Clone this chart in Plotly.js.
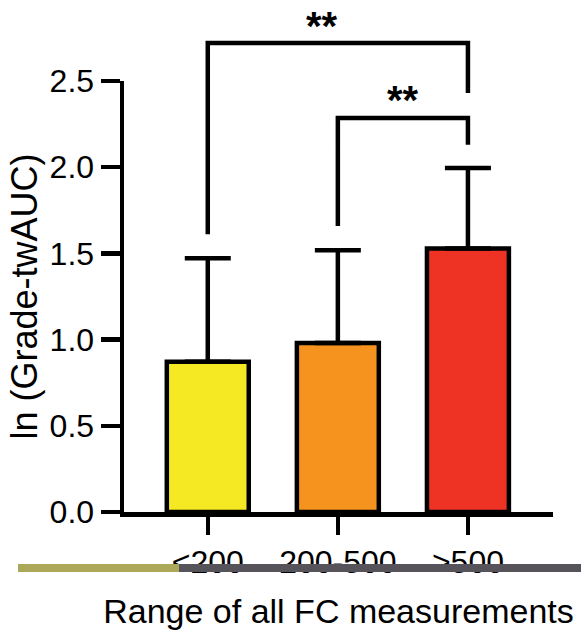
<!DOCTYPE html>
<html>
<head>
<meta charset="utf-8">
<script src="https://cdn.plot.ly/plotly-3.0.1.min.js"></script>
<style>html,body{margin:0;padding:0;background:#fff;}#chart{width:581px;height:630px;}</style>
</head>
<body>
<div id="chart"></div>
<script>
// ---- data ----
var categories = ['<200', '200-500', '>500'];
var means = [0.872, 0.98, 1.528];
var sdUp = [0.60, 0.538, 0.468];
var barColors = ['#F4E922', '#F6931E', '#EE3325'];
var yTicks = [0, 0.5, 1.0, 1.5, 2.0, 2.5];

// significance brackets (leg bottoms and bar heights in y units)
var bracketA = {x: ['<200', '<200', '>500', '>500'], y: [1.611, 2.72, 2.72, 2.43]};
var bracketB = {x: ['200-500', '200-500', '>500', '>500'], y: [1.659, 2.285, 2.285, 2.13]};
var starLabels = ['**', '**'];
var starX = [0.88, 1.5];
var starY = [2.82, 2.39];

var font = 'Liberation Sans, Arial, Helvetica, sans-serif';
var LW = 4.5;
var yMax = 2.5;

// geometry: full plot area for the bracket layer, main axis occupies the lower part
var W = 581, H = 630, mT = 4, mB = 118, mL = 124, mR = 28;
var plotH = H - mT - mB;
var mainTopPx = 81;
var dTop = (H - mB - mainTopPx) / plotH;     // domain top of the main y axis
var y2Max = yMax / dTop;                     // same scale on the overlay axis

var traces = [
  {
    type: 'bar',
    x: categories,
    y: means,
    width: 0.63,
    marker: {color: barColors, line: {color: '#000', width: LW}},
    error_y: {type: 'data', symmetric: false, array: sdUp, arrayminus: [0, 0, 0],
              color: '#000', thickness: LW, width: 23},
    showlegend: false,
    hoverinfo: 'none'
  },
  {
    type: 'scatter', mode: 'lines', x: bracketA.x, y: bracketA.y, yaxis: 'y2',
    line: {color: '#000', width: LW}, showlegend: false, hoverinfo: 'none'
  },
  {
    type: 'scatter', mode: 'lines', x: bracketB.x, y: bracketB.y, yaxis: 'y2',
    line: {color: '#000', width: LW}, showlegend: false, hoverinfo: 'none'
  }
];

var annotations = starLabels.map(function (t, i) {
  return {x: starX[i], y: starY[i], xref: 'x', yref: 'y2', text: '<b>' + t + '</b>',
          showarrow: false, font: {family: font, size: 40, color: '#000'},
          xanchor: 'center', yanchor: 'middle'};
});

var layout = {
  width: W, height: H,
  margin: {l: mL, r: mR, t: mT, b: mB, pad: 0},
  paper_bgcolor: '#fff', plot_bgcolor: 'rgba(0,0,0,0)',
  font: {family: font, color: '#000'},
  xaxis: {
    type: 'category',
    range: [-0.644, 2.654],
    anchor: 'y',
    showline: true, linecolor: '#000', linewidth: LW,
    ticks: 'outside', ticklen: 18, tickwidth: LW, tickcolor: '#000',
    showgrid: false, zeroline: false,
    tickfont: {family: font, size: 32, color: '#000'},
    title: {text: 'Range of all FC measurements', font: {family: font, size: 34, color: '#000'}, standoff: 27}
  },
  yaxis: {
    domain: [0, dTop],
    range: [0, yMax],
    tickvals: yTicks, tickformat: '.1f',
    showline: true, linecolor: '#000', linewidth: LW,
    ticks: 'outside', ticklen: 19, tickwidth: LW, tickcolor: '#000',
    showgrid: false, zeroline: false,
    tickfont: {family: font, size: 32, color: '#000'},
    title: {text: 'ln (Grade-twAUC)', font: {family: font, size: 36, color: '#000'}, standoff: 2}
  },
  yaxis2: {
    domain: [0, 1],
    range: [0, y2Max],
    anchor: 'x',
    visible: false,
    showgrid: false, zeroline: false
  },
  annotations: annotations,
  shapes: [
    {type: 'rect', xref: 'paper', yref: 'paper', x0: (18 - mL) / (W - mL - mR), x1: (179 - mL) / (W - mL - mR),
     y0: -(572 - (H - mB)) / plotH, y1: -(564 - (H - mB)) / plotH, fillcolor: '#ABA85A', line: {width: 0}, layer: 'above'},
    {type: 'rect', xref: 'paper', yref: 'paper', x0: (179 - mL) / (W - mL - mR), x1: (581 - mL) / (W - mL - mR),
     y0: -(572 - (H - mB)) / plotH, y1: -(564 - (H - mB)) / plotH, fillcolor: '#56535A', line: {width: 0}, layer: 'above'}
  ]
};

Plotly.newPlot('chart', traces, layout, {displayModeBar: false, staticPlot: true});
</script>
</body>
</html>
